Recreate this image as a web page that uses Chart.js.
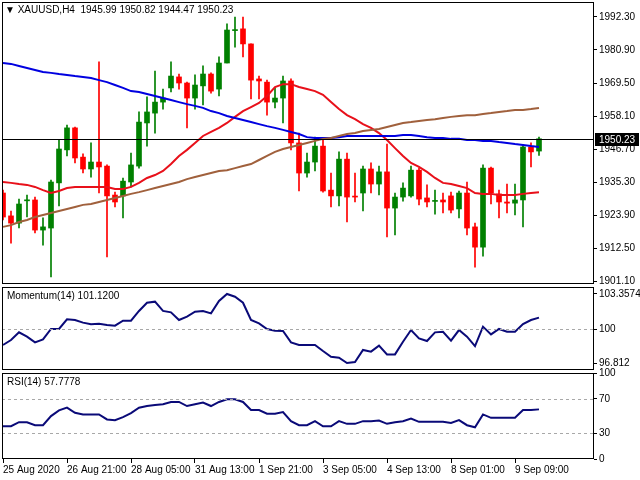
<!DOCTYPE html>
<html>
<head>
<meta charset="utf-8">
<script src="https://cdn.jsdelivr.net/npm/chart.js@4"></script>
<style>
body{margin:0;background:#fff;width:640px;height:480px;overflow:hidden;position:relative;font-family:"Liberation Sans",Arial,sans-serif}
canvas{position:absolute;left:0}
.lbl{position:absolute;font-size:10px;color:#000;white-space:nowrap}
</style>
</head>
<body>
<canvas id="main" width="640" height="286" style="top:0px"></canvas>
<canvas id="mom" width="640" height="87" style="top:285px"></canvas>
<canvas id="rsi" width="640" height="125" style="top:355px"></canvas>
<div class="lbl" style="left:5px;top:4px">&#9660; XAUUSD,H4&nbsp; 1945.99 1950.82 1944.47 1950.23</div>
<div class="lbl" style="left:7px;top:290px">Momentum(14) 101.1200</div>
<div class="lbl" style="left:7px;top:376px">RSI(14) 57.7778</div>
<script>
// H4 candles
const opens  = [1931.5,1923.6,1921.1,1928.8,1929.1,1918.7,1919.4,1935.0,1946.4,1954.0,1943.9,1939.8,1942.2,1940.8,1930.8,1930.5,1935.3,1940.8,1955.7,1959.1,1962.9,1967.8,1971.6,1969.5,1964.3,1968.5,1972.6,1967.4,1976.4,1987.6,1988.2,1983.0,1970.9,1969.8,1962.9,1964.3,1970.2,1948.8,1938.4,1942.2,1947.7,1932.5,1930.5,1943.2,1930.3,1931.5,1939.8,1934.6,1938.8,1926.3,1930.1,1930.5,1939.4,1929.8,1928.6,1929.1,1930.5,1926.0,1931.5,1919.8,1912.8,1940.1,1931.2,1928.4,1928.0,1929.1,1947.4,1945.99];
const highs  = [1932.5,1925.3,1929.4,1930.8,1930.1,1922.9,1936.0,1949.8,1955.0,1954.3,1945.0,1948.8,1976.8,1941.2,1931.8,1936.7,1945.3,1959.5,1964.7,1973.6,1967.4,1976.8,1972.6,1969.8,1972.3,1975.4,1973.0,1978.5,1989.9,1992.3,1992.3,1983.0,1971.9,1970.5,1967.8,1971.9,1970.9,1952.2,1945.3,1950.8,1949.8,1938.4,1945.7,1945.3,1938.4,1940.8,1941.9,1940.8,1948.4,1931.5,1935.0,1940.8,1940.1,1934.3,1932.5,1931.5,1931.8,1932.2,1935.3,1921.1,1941.2,1940.5,1932.5,1934.6,1934.6,1948.1,1948.8,1950.82];
const lows   = [1922.2,1914.2,1919.4,1923.2,1917.7,1913.5,1902.5,1927.0,1944.3,1941.9,1938.4,1937.0,1931.5,1909.4,1926.7,1922.9,1933.6,1940.1,1947.7,1952.2,1960.5,1966.4,1967.4,1954.0,1960.5,1961.9,1966.0,1965.0,1976.4,1981.9,1978.5,1964.0,1964.0,1958.4,1960.9,1955.7,1946.4,1932.2,1937.0,1939.1,1931.8,1926.7,1927.0,1921.5,1928.4,1925.3,1931.5,1930.8,1916.3,1917.0,1928.7,1930.1,1927.4,1926.7,1924.2,1924.6,1924.6,1922.9,1917.0,1905.9,1909.7,1927.7,1922.9,1924.6,1923.9,1919.8,1940.5,1944.47];
const closes = [1923.2,1921.1,1927.7,1929.1,1918.7,1919.8,1935.3,1946.7,1954.0,1943.6,1939.8,1942.2,1940.5,1930.5,1928.4,1935.6,1941.2,1956.0,1959.5,1962.9,1964.3,1971.9,1969.5,1964.3,1968.8,1972.6,1966.7,1976.4,1987.8,1987.8,1983.0,1970.5,1970.2,1962.9,1964.3,1970.2,1948.8,1938.4,1942.2,1947.7,1932.2,1930.5,1943.2,1930.1,1930.1,1939.8,1934.6,1938.8,1926.3,1930.1,1933.2,1939.4,1929.4,1928.4,1928.7,1928.4,1925.6,1931.5,1919.4,1912.8,1940.1,1931.5,1928.4,1928.0,1929.1,1947.4,1945.7,1950.23];

const maFast = [1935.3,1935.0,1934.6,1934.3,1933.6,1932.5,1931.5,1932.2,1933.2,1933.6,1933.6,1933.6,1933.6,1933.6,1932.9,1932.9,1933.6,1935.0,1936.7,1937.7,1939.1,1941.5,1944.3,1946.4,1948.8,1951.2,1952.6,1954.0,1955.7,1957.8,1959.8,1961.2,1962.6,1965.0,1968.1,1969.1,1969.1,1968.1,1967.4,1966.7,1965.4,1962.9,1960.5,1958.4,1957.0,1955.3,1954.0,1952.2,1949.8,1947.0,1944.3,1941.9,1940.5,1938.8,1936.7,1935.0,1934.6,1933.9,1933.2,1931.5,1931.2,1931.2,1930.8,1930.8,1930.8,1931.2,1931.5,1931.8];
const maMid  = [1976.4,1976.1,1975.4,1974.7,1974.0,1973.3,1973.0,1972.6,1972.3,1971.9,1971.6,1971.2,1970.5,1969.8,1968.8,1967.8,1966.7,1966.4,1965.7,1965.0,1964.3,1963.6,1962.9,1962.2,1961.6,1960.9,1959.8,1959.1,1958.1,1957.4,1956.7,1956.0,1955.3,1954.6,1954.0,1953.3,1952.6,1951.9,1950.8,1950.5,1950.5,1950.5,1950.8,1951.2,1951.2,1951.2,1951.2,1951.2,1951.2,1951.2,1951.5,1951.5,1951.2,1950.8,1950.5,1950.5,1950.2,1950.2,1949.8,1949.8,1949.5,1949.5,1949.1,1948.8,1948.4,1948.1,1947.7,1947.4];
const maSlow = [1919.8,1920.4,1921.5,1922.2,1923.2,1923.9,1924.6,1925.3,1926.0,1926.7,1927.4,1927.7,1928.4,1929.1,1929.8,1930.5,1931.2,1931.8,1932.5,1933.2,1933.9,1934.6,1935.3,1936.3,1937.0,1937.7,1938.4,1939.1,1939.4,1940.1,1940.8,1941.5,1942.9,1944.3,1945.7,1946.7,1947.4,1948.1,1948.8,1949.5,1950.2,1950.5,1951.2,1951.9,1952.2,1952.9,1953.3,1953.6,1954.3,1955.0,1955.7,1956.0,1956.4,1956.7,1957.0,1957.4,1957.8,1958.1,1958.4,1958.4,1958.8,1959.1,1959.5,1959.8,1960.2,1960.2,1960.5,1960.9];

const momentum = [98.52,98.99,99.72,99.31,98.77,99.06,100.04,100.04,100.95,100.89,100.64,100.48,100.54,100.42,100.35,100.83,100.83,101.75,102.53,102.63,101.75,101.62,100.89,101.21,101.68,101.75,101.52,102.69,103.36,103.10,102.53,100.89,100.57,100.04,99.88,99.85,98.77,98.52,98.52,98.52,97.95,97.41,97.32,96.81,96.90,98.05,97.89,98.46,97.63,97.63,98.83,99.94,99.15,98.90,99.72,99.78,98.93,99.94,99.31,98.42,100.26,99.53,100.04,99.78,99.78,100.51,100.89,101.12];
const rsi = [38.1,38.1,42.8,42.8,39.3,39.3,49.9,56.5,59.7,53.8,51.8,51.8,51.8,46.0,45.2,48.7,53.4,59.7,61.6,62.8,63.6,66.3,66.3,61.6,63.6,65.6,61.6,66.3,69.5,69.5,66.3,56.9,56.9,52.6,52.6,54.6,44.0,39.3,39.3,44.0,38.1,38.1,44.0,40.9,40.9,44.0,44.0,44.8,40.9,42.8,44.0,47.1,43.2,43.2,43.2,43.2,42.0,45.2,39.3,36.9,51.8,47.9,47.9,47.9,47.9,56.9,56.9,57.7];

const priceTicks = [1901.10,1912.50,1923.90,1935.30,1946.70,1958.10,1969.50,1980.90,1992.30];
const momTicks = [96.812,100,103.3574];
const momTickLabels = ['96.812','100','103.3574'];
const rsiTicks = [0,30,70,100];
const dateLabels = ['25 Aug 2020','26 Aug 21:00','28 Aug 05:00','31 Aug 13:00','1 Sep 21:00','3 Sep 05:00','4 Sep 13:00','8 Sep 01:00','9 Sep 09:00'];
const dateIndex = [0,8,16,24,32,40,48,56,64];

const lastClose = closes[closes.length - 1];
const xMin = -0.125, xMax = 73.875;
const FONT = {family:'"Liberation Sans", Arial, sans-serif', size:10};

Chart.defaults.font.family = FONT.family;
Chart.defaults.font.size = 10;
Chart.defaults.color = '#000';

const frame = {
    id:'frame',
    afterDraw(chart, args, opts){
        const c = chart.ctx, a = chart.chartArea;
        c.save();
        (opts.dashed || []).forEach(v => {
            const y = Math.round(chart.scales.y.getPixelForValue(v)) + 0.5;
            c.strokeStyle = '#a8a8a8'; c.lineWidth = 1; c.setLineDash([3,3]);
            c.beginPath(); c.moveTo(a.left, y); c.lineTo(a.right, y); c.stroke();
        });
        c.setLineDash([]);
        if(opts.price !== undefined){
            const y = Math.round(chart.scales.y.getPixelForValue(opts.price)) + 0.5;
            c.strokeStyle = '#000'; c.lineWidth = 1;
            c.beginPath(); c.moveTo(a.left, y); c.lineTo(a.right, y); c.stroke();
            c.fillStyle = '#000';
            c.fillRect(a.right + 1, y - 6.5, 44, 13);
            c.fillStyle = '#fff'; c.font = '10px ' + FONT.family;
            c.textBaseline = 'middle';
            c.fillText(opts.price.toFixed(2), a.right + 5, y + 0.5);
        }
        c.strokeStyle = '#000'; c.lineWidth = 1;
        c.strokeRect(a.left + 0.5, a.top + 0.5, a.right - a.left - 1, a.bottom - a.top - 1);
        c.restore();
    }
};

function yAxis(ticks, min, max, labels){
    return {
        position:'right', min:min, max:max,
        afterBuildTicks: s => { s.ticks = ticks.map(v => ({value:v})); },
        afterFit: s => { s.width = 46; s.paddingTop = 0; s.paddingBottom = 0; },
        grid:{drawOnChartArea:false, tickLength:3, color:'#000'},
        border:{display:false},
        ticks:{padding:2, font:FONT, callback:(v, i) => labels ? labels[i] : v}
    };
}
function xAxis(show){
    return {
        type:'linear', min:xMin, max:xMax, offset:false,
        display:show,
        afterBuildTicks: s => { s.ticks = dateIndex.map(v => ({value:v})); },
        afterFit: s => { if(show) s.height = 21; s.paddingLeft = 0; s.paddingRight = 0; },
        grid:{drawOnChartArea:false, tickLength:4, color:'#000'},
        border:{display:false},
        ticks:{align:'start', maxRotation:0, autoSkip:false, padding:1, font:FONT,
               callback:(v, i) => dateLabels[i]}
    };
}
const base = {responsive:false, animation:false, devicePixelRatio:1, events:[],
              plugins:{legend:{display:false}, tooltip:{enabled:false}}};

const candleColor = opens.map((o, i) => closes[i] >= o ? '#008000' : '#ff0000');
const pts = arr => arr.map((v, i) => ({x:i, y:v}));
const lineDs = (arr, color) => ({type:'line', data:pts(arr), borderColor:color, borderWidth:2,
                                  pointRadius:0, tension:0, order:0});

new Chart(document.getElementById('main'), {
    type:'bar',
    data:{datasets:[
        {data:opens.map((o, i) => ({x:i, y:[lows[i], highs[i]]})), backgroundColor:candleColor,
         barThickness:1, grouped:false, order:3},
        {data:opens.map((o, i) => ({x:i, y:[o, closes[i]]})), backgroundColor:candleColor,
         barThickness:5, minBarLength:1, grouped:false, order:2},
        lineDs(maSlow, '#a0603c'),
        lineDs(maMid, '#0000e0'),
        lineDs(maFast, '#e8101a')
    ]},
    options:{...base,
        layout:{padding:{left:2, top:2, bottom:2, right:0}},
        plugins:{...base.plugins, frame:{price:lastClose}},
        scales:{x:xAxis(false), y:yAxis(priceTicks, 1900.07, 1997.48, priceTicks.map(v => v.toFixed(2)))}
    },
    plugins:[frame]
});

new Chart(document.getElementById('mom'), {
    type:'line',
    data:{datasets:[lineDs(momentum, '#0a0a78')]},
    options:{...base,
        layout:{padding:{left:2, top:2, bottom:2, right:0}},
        plugins:{...base.plugins, frame:{dashed:[100]}},
        scales:{x:xAxis(false), y:yAxis(momTicks, 96.15, 104.02, momTickLabels)}
    },
    plugins:[frame]
});

new Chart(document.getElementById('rsi'), {
    type:'line',
    data:{datasets:[lineDs(rsi, '#0a0a78')]},
    options:{...base,
        layout:{padding:{left:2, top:18, bottom:0, right:0}},
        plugins:{...base.plugins, frame:{dashed:[30, 70]}},
        scales:{x:xAxis(true), y:yAxis(rsiTicks, 0, 100)}
    },
    plugins:[frame]
});
</script>
</body>
</html>
